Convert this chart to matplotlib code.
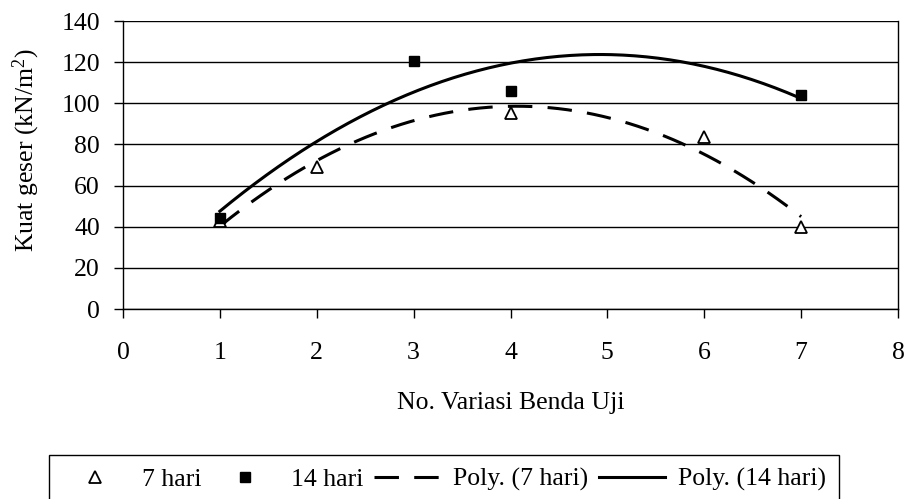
import numpy as np
import matplotlib.pyplot as plt

plt.rcParams['font.family'] = ['Liberation Serif', 'DejaVu Serif']
plt.rcParams['mathtext.fontset'] = 'custom'
plt.rcParams['mathtext.rm'] = 'Liberation Serif'
plt.rcParams['mathtext.it'] = 'Liberation Serif'

# data
x_7 = [1, 2, 4, 6, 7]
y_7 = [42.8, 69.2, 95.4, 83.8, 39.8]
x_14 = [1, 3, 4, 7]
y_14 = [44.2, 120.5, 106.1, 104.0]

# Excel-style polynomial (order 2) trendlines
c7 = np.polyfit(x_7, y_7, 2)
c14 = np.polyfit(x_14, y_14, 2)
xs = np.linspace(1, 7, 200)

fs = 18.5

fig = plt.figure(figsize=(9.08, 4.99), dpi=100)
ax = fig.add_axes([123 / 908, 1 - 309 / 499, 775 / 908, 288 / 499])

ax.plot(x_7, y_7, linestyle='none', marker='^', markersize=9,
        markerfacecolor='white', markeredgecolor='black', markeredgewidth=1.3,
        label='7 hari', zorder=4)
ax.plot(x_14, y_14, linestyle='none', marker='s', markersize=7,
        color='black', label='14 hari', zorder=4)
ax.plot(xs, np.polyval(c7, xs), color='black', lw=2.2,
        dashes=(8, 5), label='Poly. (7 hari)', zorder=3)
ax.plot(xs, np.polyval(c14, xs), color='black', lw=2.2,
        label='Poly. (14 hari)', zorder=3)

ax.set_xlim(0, 8)
ax.set_ylim(0, 140)
ax.set_xticks(range(0, 9))
ax.set_yticks(range(0, 141, 20))
ax.yaxis.grid(True, color='black', lw=1)
ax.set_axisbelow(True)
for s in ax.spines.values():
    s.set_color('black')
    s.set_linewidth(1)
ax.spines['top'].set_visible(False)
ax.tick_params(direction='out', length=6.5, width=1, labelsize=fs)
ax.tick_params(axis='x', pad=17)
ax.tick_params(axis='y', pad=10)

ax.set_xlabel('No. Variasi Benda Uji', fontsize=fs)
ax.xaxis.set_label_coords(0.5, -0.288)
ax.set_ylabel('Kuat geser (kN/m$^2$)', fontsize=fs)
ax.yaxis.set_label_coords(-0.105, 0.55)

leg = fig.legend(loc='upper left', bbox_to_anchor=(49 / 908, 1 - 455 / 499),
                 borderaxespad=0, ncol=4, fontsize=fs, frameon=True,
                 fancybox=False, edgecolor='black', framealpha=1,
                 handlelength=2.6, handletextpad=0.5, columnspacing=0.4,
                 borderpad=0.5)
leg.get_frame().set_linewidth(1)

fig.savefig('out.png', dpi=100)
